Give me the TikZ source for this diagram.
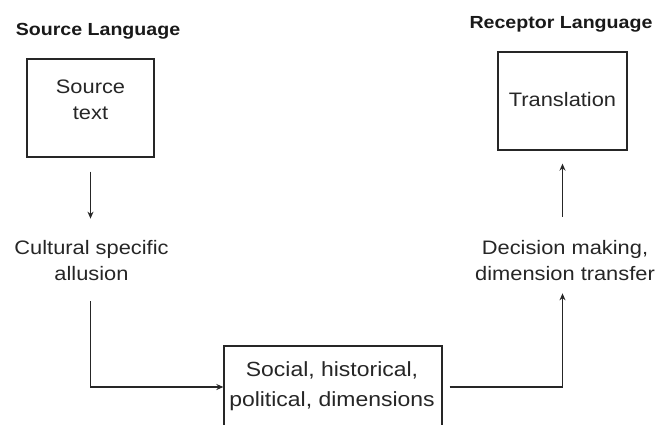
\documentclass[tikz,border=0pt]{standalone}
\usepackage{fontspec}
\setmainfont{Liberation Sans}[FakeStretch=1.12]
\usetikzlibrary{arrows.meta}

\begin{document}
\begin{tikzpicture}[x=1pt,y=-1pt,
 box/.style ={draw=black!85,line width=1.3pt,fill=white},
 txt/.style ={inner sep=0pt,align=center,font=\fontsize{19.5}{26}\selectfont,text=black!85},
 title/.style ={inner sep=0pt,font=\fontsize{17.5}{21}\selectfont\bfseries,text=black!90},
 flow/.style ={-{Stealth[length=7pt,width=6pt]},draw=black!85,line width=1.3pt}
 ]
\clip (0,0) rectangle (661,425);
\fill[white] (0,0) rectangle (661,425);
%draw language titles
\node[title] (srctitle) at (98,31) {Source Language};
\node[title] (rectitle) at (561,24) {Receptor Language};
%draw source text box
\node[box,minimum width=127pt,minimum height=98pt] (src) at (90.5,108) {};
\node[txt] (srctext) at (90.5,100) {Source\\text};
%draw translation box
\node[box,minimum width=129pt,minimum height=98pt] (transl) at (562.5,101) {};
\node[txt] (transltext) at (562.5,100) {Translation};
%draw cultural allusion
\node[txt] (cult) at (91.5,261) {Cultural specific\\allusion};
%draw decision making
\node[txt] (decision) at (565,261) {Decision making,\\dimension transfer};
%draw dimensions box
\node[box,minimum width=218pt,minimum height=100pt] (social) at (333,396) {};
\node[txt,font=\fontsize{20.5}{30}\selectfont] (socialtext) at (332,386)
 {Social, historical,\\political, dimensions};
%draw flow from source to translation
\draw[flow,shorten <=14pt,shorten >=22pt] (src.south) -- (src.south |- cult.north);
\draw[flow,shorten <=20pt] (src.south |- cult.south) |- ([yshift=9pt]social.west);
\draw[flow,shorten <=7pt,shorten >=12pt] ([yshift=9pt]social.east) -| (transl.south |- decision.south);
\draw[flow,shorten <=24pt,shorten >=13pt] (transl.south |- decision.north) -- (transl.south);
\end{tikzpicture}
\end{document}
